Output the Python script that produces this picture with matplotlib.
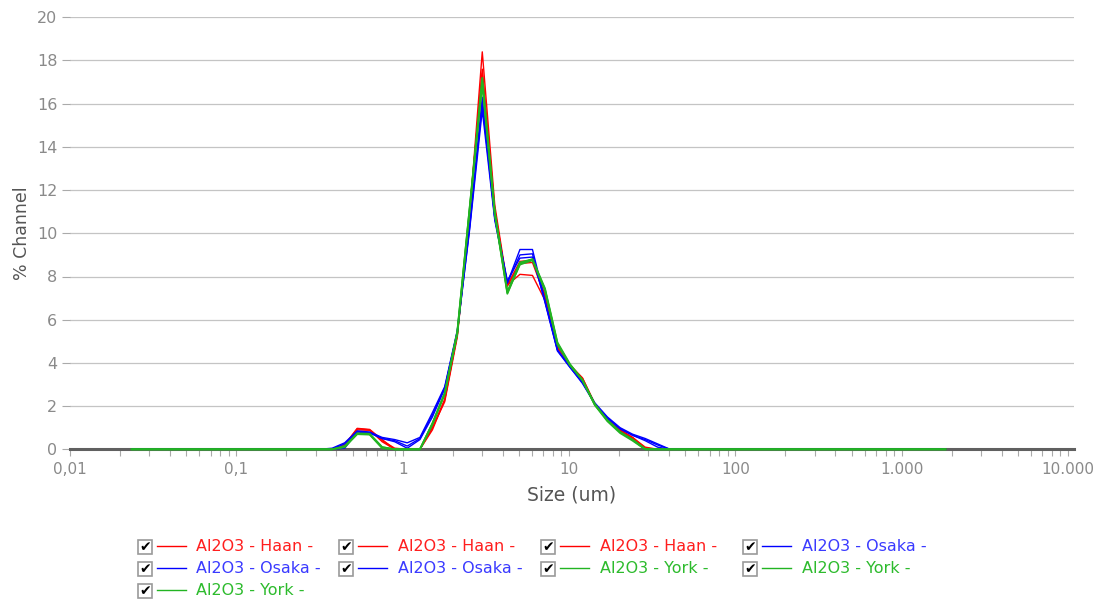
import numpy as np
import matplotlib
matplotlib.use("Agg")
import matplotlib.pyplot as plt
from matplotlib.lines import Line2D
from matplotlib.patches import Rectangle
from matplotlib.transforms import IdentityTransform
from matplotlib.ticker import FixedLocator, FuncFormatter, LogLocator, NullFormatter

# channel sizes (um), ascending
sizes = [0.0235, 0.0280, 0.0333, 0.0396, 0.0471, 0.0560, 0.0666, 0.0792, 0.0942,
         0.112, 0.133, 0.158, 0.188, 0.224, 0.266, 0.317, 0.377, 0.448, 0.533,
         0.633, 0.753, 0.896, 1.065, 1.27, 1.51, 1.79, 2.13, 2.53, 3.01, 3.58,
         4.26, 5.07, 6.03, 7.17, 8.52, 10.13, 12.05, 14.3, 17.0, 20.3, 24.1,
         28.7, 34.1, 40.5, 48.2, 57.3, 68.2, 81.1, 96.4, 115, 136, 162, 193,
         229, 273, 324, 386, 459, 545, 648, 771, 917, 1091, 1297, 1542, 1834]

# % channel read for sizes 0.377 .. 40.5, zero outside
haan_1 = [0, 0.2, 0.97, 0.92, 0.45, 0, 0, 0, 1.0, 2.2, 5.2, 10.9, 18.4, 11.3, 7.6, 8.1, 8.05, 6.9, 4.7, 3.9, 3.3, 2.1, 1.4, 0.9, 0.55, 0.05, 0, 0]
haan_2 = [0, 0.15, 0.9, 0.88, 0.4, 0.05, 0, 0, 0.9, 2.3, 5.3, 11.0, 17.6, 11.1, 7.55, 8.6, 8.65, 7.1, 4.75, 3.9, 3.25, 2.1, 1.35, 0.85, 0.55, 0.1, 0, 0]
haan_3 = [0, 0.2, 0.95, 0.9, 0.35, 0, 0, 0, 1.0, 2.3, 5.3, 11.1, 17.4, 11.0, 7.6, 8.7, 8.75, 7.15, 4.8, 3.9, 3.3, 2.1, 1.4, 0.9, 0.5, 0.05, 0, 0]
osaka_1 = [0.05, 0.3, 0.85, 0.8, 0.55, 0.45, 0.3, 0.55, 1.7, 2.9, 5.5, 10.4, 16.3, 10.7, 7.7, 9.25, 9.25, 6.9, 4.6, 3.85, 3.1, 2.15, 1.5, 1.0, 0.7, 0.5, 0.25, 0]
osaka_2 = [0.02, 0.25, 0.82, 0.78, 0.5, 0.4, 0.15, 0.5, 1.6, 2.85, 5.45, 10.2, 15.7, 10.6, 7.7, 9.0, 9.05, 6.8, 4.55, 3.8, 3.05, 2.1, 1.45, 0.95, 0.65, 0.45, 0.2, 0]
osaka_3 = [0, 0.05, 0.8, 0.75, 0.5, 0.35, 0.05, 0.45, 1.5, 2.8, 5.4, 10.3, 16.0, 10.7, 7.8, 8.85, 8.9, 6.85, 4.6, 3.8, 3.1, 2.1, 1.45, 0.95, 0.65, 0.4, 0.1, 0]
york_1 = [0, 0.15, 0.72, 0.7, 0.1, 0, 0, 0, 1.2, 2.6, 5.4, 11.2, 17.2, 11.0, 7.25, 8.55, 8.75, 7.4, 4.9, 3.9, 3.2, 2.05, 1.35, 0.8, 0.45, 0, 0, 0]
york_2 = [0, 0.1, 0.7, 0.68, 0.05, 0, 0, 0, 1.15, 2.55, 5.35, 11.1, 16.9, 10.9, 7.2, 8.6, 8.8, 7.45, 4.95, 3.95, 3.2, 2.05, 1.3, 0.75, 0.4, 0, 0, 0]
york_3 = [0, 0.12, 0.74, 0.72, 0.1, 0, 0, 0, 1.2, 2.6, 5.45, 11.2, 17.0, 10.9, 7.3, 8.65, 8.8, 7.35, 4.85, 3.9, 3.2, 2.1, 1.35, 0.8, 0.45, 0.02, 0, 0]

first_idx = sizes.index(0.377)

labels = ["Al2O3 - Haan -"] * 3 + ["Al2O3 - Osaka -"] * 3 + ["Al2O3 - York -"] * 3
series = [haan_1, haan_2, haan_3, osaka_1, osaka_2, osaka_3, york_1, york_2, york_3]

RED = "#ff0000"
BLUE = "#0000ff"
GREEN = "#22b422"
colors = [RED] * 3 + [BLUE] * 3 + [GREEN] * 3
widths = [1.0] * 6 + [1.3] * 3
text_colors = ["#ff1e1e"] * 3 + ["#3a3aff"] * 3 + ["#2dbb2d"] * 3


def full_row(vals):
    """pad the read window with the flat zero part of the curve"""
    row = np.zeros(len(sizes))
    row[first_idx:first_idx + len(vals)] = vals
    return row


def fmt_size(v, pos):
    if v < 1:
        return ("%g" % v).replace(".", ",")
    return "{:,}".format(int(round(v))).replace(",", ".")


fig = plt.figure(figsize=(11, 5.99), dpi=100)
W, H = 1100, 599
ax = fig.add_axes([70 / W, (H - 449.3) / H, 1004 / W, 432 / H])

for vals, c, lw in zip(series, colors, widths):
    ax.plot(sizes, full_row(vals), color=c, lw=lw, zorder=3, clip_on=False)

ax.set_xscale("log")
ax.set_xlim(0.01, 10 ** (4 + 6 / 166.33))
ax.set_ylim(0, 20)

ax.xaxis.set_major_locator(FixedLocator([0.01, 0.1, 1, 10, 100, 1000, 10000]))
ax.xaxis.set_major_formatter(FuncFormatter(fmt_size))
ax.xaxis.set_minor_locator(LogLocator(base=10, subs=np.arange(2, 10)))
ax.xaxis.set_minor_formatter(NullFormatter())
ax.set_yticks(np.arange(0, 21, 2))

ax.grid(axis="y", color="#c4c4c4", lw=0.9)
ax.set_axisbelow(True)
for s in ["top", "right", "left"]:
    ax.spines[s].set_visible(False)
ax.spines["bottom"].set_color("#606060")
ax.spines["bottom"].set_linewidth(2.2)
ax.spines["bottom"].set_zorder(2.5)

ax.tick_params(axis="x", which="both", direction="out", length=5, width=0.8,
               color="#aaaaaa", labelsize=11, labelcolor="#8a8a8a", pad=4)
ax.tick_params(axis="y", which="both", direction="out", length=6, width=0.8,
               color="#aaaaaa", labelsize=11.5, labelcolor="#8a8a8a", pad=3)

ax.set_xlabel("Size (um)", fontsize=13.5, color="#555555", labelpad=6)
ax.set_ylabel("% Channel", fontsize=12.5, color="#555555", labelpad=4)

# legend with check boxes, laid out in 4 columns under the chart
tr = IdentityTransform()
col_x = [137.5, 339.2, 540.9, 742.6]
row_y = [546.5, 568.5, 590.5]
for i, (lab, c, tc) in enumerate(zip(labels, colors, text_colors)):
    x0 = col_x[i % 4]
    yc = H - row_y[i // 4]
    fig.add_artist(Rectangle((x0, yc - 7), 14, 14, transform=tr, facecolor="white",
                             edgecolor="#9a9a9a", lw=1.2))
    fig.text(x0 + 7.5, yc - 0.5, "\u2714", transform=tr, ha="center", va="center",
             fontsize=10, fontweight="bold", color="black")
    fig.add_artist(Line2D([x0 + 19, x0 + 48], [yc + 1, yc + 1], transform=tr,
                          color=c, lw=1.0))
    fig.text(x0 + 59, yc, lab, transform=tr, ha="left", va="center",
             fontsize=11.5, color=tc)

fig.savefig("out.png", dpi=100)
